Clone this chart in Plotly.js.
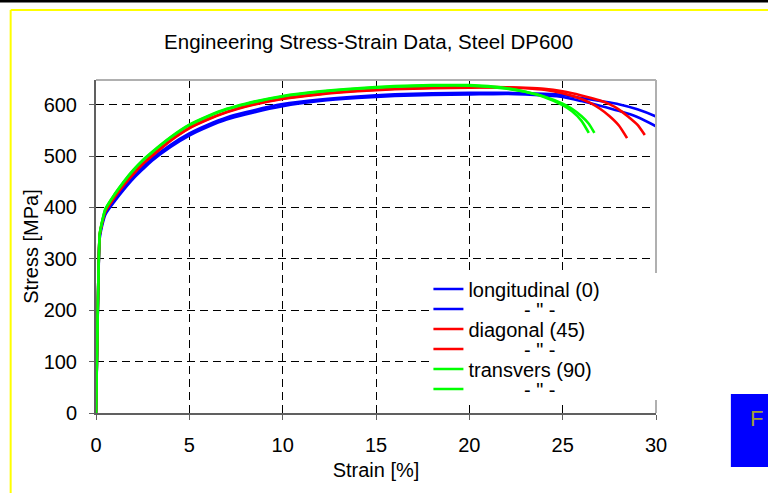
<!DOCTYPE html>
<html>
<head>
<meta charset="utf-8">
<script src="https://cdn.plot.ly/plotly-3.0.1.min.js"></script>
<style>html,body{margin:0;padding:0;background:#fff;}#chart{width:768px;height:493px;}</style>
</head>
<body>
<div id="chart"></div>
<script>
// ---- data ----
var baseStrain = [0, 0.05, 0.1, 0.15, 0.2, 0.3, 0.5, 1, 1.5, 2, 2.5, 3, 4, 5, 6, 7, 8, 10, 12, 14, 16, 18, 20, 22];

var long1Tail = [23, 24, 25, 26, 27, 28, 29, 30, 30.5];
var long1Stress = [0, 105, 210, 300, 345, 364, 390, 416, 439, 460, 478, 495, 522, 544, 561, 575, 585, 601, 610, 616, 620, 622, 623, 623,
                   622, 621, 619, 613, 607, 601, 591, 577, 568];
var long2Tail = [23, 24, 25, 26, 27, 28, 29, 30, 30.5];
var long2Stress = [0, 100, 205, 295, 340, 360, 386, 412, 435, 456, 474, 491, 518, 540, 557, 571, 581, 597, 607, 613, 617, 619, 620, 621,
                   620, 618, 615, 607, 598, 588, 576, 558, 548];

var diag1Tail = [23, 24, 25, 26, 26.5, 27, 27.5, 28, 28.45];
var diag1Stress = [0, 105, 210, 300, 347, 366, 393, 421, 445, 466, 485, 501, 531, 555, 572, 586, 597, 612, 621, 627, 631, 633, 634, 634,
                   632, 629, 622, 611, 603, 592, 578, 560, 535];
var diag2Tail = [23, 24, 25, 26, 27, 27.5, 28, 28.5, 29, 29.4];
var diag2Stress = [0, 105, 210, 300, 347, 366, 392, 420, 444, 465, 484, 500, 530, 554, 571, 585, 596, 611, 620, 626, 630, 632, 633, 634,
                   633, 631, 626, 618, 608, 601, 591, 577, 561, 541];

var trans1Tail = [21, 23, 24, 25, 25.5, 26, 26.4];
var trans1Stress = [0, 105, 210, 300, 348, 368, 397, 426, 451, 473, 492, 508, 537, 561, 578, 592, 602, 617, 626, 632, 636, 638, 638, 632,
                    636, 625, 615, 599, 587, 569, 545];
var trans2Tail = [21, 23, 24, 25, 25.5, 26, 26.4, 26.7];
var trans2Stress = [0, 105, 210, 300, 348, 368, 396, 425, 450, 472, 491, 507, 536, 560, 577, 591, 601, 616, 625, 631, 635, 637, 637, 631,
                    635, 625, 616, 602, 592, 578, 563, 545];

var seriesNames = ['longitudinal (0)', '- " -', 'diagonal (45)', '- " -', 'transvers (90)', '- " -'];
var seriesColors = ['#0000FF', '#0000FF', '#FF0000', '#FF0000', '#00FF00', '#00FF00'];

var xTicks = [0, 5, 10, 15, 20, 25, 30];
var yTicks = [0, 100, 200, 300, 400, 500, 600];

// ---- build traces ----
function sortedPairs(xs, ys) {
  var p = xs.map(function (x, i) { return [x, ys[i]]; });
  p.sort(function (a, b) { return a[0] - b[0]; });
  return {x: p.map(function (q) { return q[0]; }), y: p.map(function (q) { return q[1]; })};
}
var NB = '\u00a0';
function pad(n) { var s = ''; for (var i = 0; i < n; i++) s += NB; return s; }
var legendNames = [
  seriesNames[0],
  pad(10) + seriesNames[1],
  seriesNames[2],
  pad(10) + seriesNames[3],
  seriesNames[4],
  pad(10) + seriesNames[5]
];
var curves = [
  sortedPairs(baseStrain.concat(long1Tail), long1Stress),
  sortedPairs(baseStrain.concat(long2Tail), long2Stress),
  sortedPairs(baseStrain.concat(diag1Tail), diag1Stress),
  sortedPairs(baseStrain.concat(diag2Tail), diag2Stress),
  sortedPairs(baseStrain.concat(trans1Tail), trans1Stress),
  sortedPairs(baseStrain.concat(trans2Tail), trans2Stress)
];
var legendIds = ['legend', 'legend2', 'legend3', 'legend4', 'legend5', 'legend6'];
var traces = curves.map(function (c, i) {
  return {
    type: 'scatter', mode: 'lines', x: c.x, y: c.y,
    name: legendNames[i], legend: legendIds[i],
    line: {color: seriesColors[i], width: 2.6, shape: 'spline', smoothing: 0.6}
  };
});

var FONT = 'Liberation Sans, Arial, sans-serif';
var H = 333; // plot height px
var rowPx = [289, 309, 329, 349, 369, 389]; // legend row centres (page px)

var layout = {
  width: 768, height: 493,
  margin: {l: 96, r: 112, t: 80, b: 80},
  paper_bgcolor: '#ffffff', plot_bgcolor: '#ffffff',
  font: {family: FONT, size: 20, color: '#000'},
  title: {text: 'Engineering Stress-Strain Data, Steel DP600', font: {family: FONT, size: 20.5, color: '#000'},
          x: 0.48, xref: 'container', xanchor: 'center', y: 0.915, yref: 'container', yanchor: 'middle'},
  xaxis: {
    range: [0, 30], tickvals: xTicks, ticktext: xTicks.map(String),
    showgrid: true, gridcolor: '#000', gridwidth: 1, griddash: '8px,5px',
    showline: true, linecolor: '#606060', linewidth: 1.5, zeroline: false,
    ticks: 'outside', ticklen: 5, tickcolor: '#606060', ticklabelstandoff: 8,
    tickfont: {family: FONT, size: 20, color: '#000'},
    title: {text: 'Strain [%]', font: {family: FONT, size: 20, color: '#000'}, standoff: 8},
    automargin: false, fixedrange: true
  },
  yaxis: {
    range: [0, 648], tickvals: yTicks, ticktext: yTicks.map(String),
    showgrid: true, gridcolor: '#000', gridwidth: 1, griddash: '8px,5px',
    showline: true, linecolor: '#606060', linewidth: 2, zeroline: false,
    ticks: 'outside', ticklen: 5, tickcolor: '#606060', ticklabelstandoff: 8,
    tickfont: {family: FONT, size: 20, color: '#000'},
    title: {text: 'Stress [MPa]', font: {family: FONT, size: 20, color: '#000'}, standoff: 0},
    automargin: false, fixedrange: true
  },
  showlegend: true,
  shapes: [
    {type: 'line', xref: 'x domain', yref: 'y domain', x0: 0, x1: 1, y0: 1, y1: 1, line: {color: '#b0b0b0', width: 2}},
    {type: 'line', xref: 'x domain', yref: 'y domain', x0: 1, x1: 1, y0: 0, y1: 1, line: {color: '#b0b0b0', width: 2}},
    {type: 'rect', xref: 'paper', yref: 'paper', x0: 0.6018, x1: 1.0107, y0: 0.039, y1: 0.4204, fillcolor: '#ffffff', line: {width: 0}, layer: 'above'},
    {type: 'line', xref: 'paper', yref: 'paper', x0: -0.2, x1: 1.25, y0: 1.2372, y1: 1.2372, line: {color: '#000', width: 3}},
    {type: 'line', xref: 'paper', yref: 'paper', x0: -0.1524, x1: 1.25, y0: 1.2102, y1: 1.2102, line: {color: '#ffff00', width: 2}},
    {type: 'line', xref: 'paper', yref: 'paper', x0: -0.1524, x1: -0.1524, y0: -0.3, y1: 1.2102, line: {color: '#ffff00', width: 2}},
    {type: 'rect', xref: 'paper', yref: 'paper', x0: 1.1337, x1: 1.22, y0: -0.1622, y1: 0.0571, fillcolor: '#0000ff', line: {width: 0}}
  ],
  annotations: [
    {text: 'F', xref: 'paper', yref: 'paper', x: 1.18, y: -0.018, showarrow: false,
     font: {family: FONT, size: 22, color: '#a0a030'}, xanchor: 'center', yanchor: 'middle'}
  ]
};
legendIds.forEach(function (id, i) {
  layout[id] = {
    x: 0.5936, xanchor: 'left', y: (413 - rowPx[i]) / H, yanchor: 'middle',
    bgcolor: 'rgba(0,0,0,0)', borderwidth: 0, tracegroupgap: 0,
    font: {family: FONT, size: 20, color: '#000'}, itemwidth: 30
  };
});

Plotly.newPlot('chart', traces, layout, {displayModeBar: false, staticPlot: true});
</script>
</body>
</html>
